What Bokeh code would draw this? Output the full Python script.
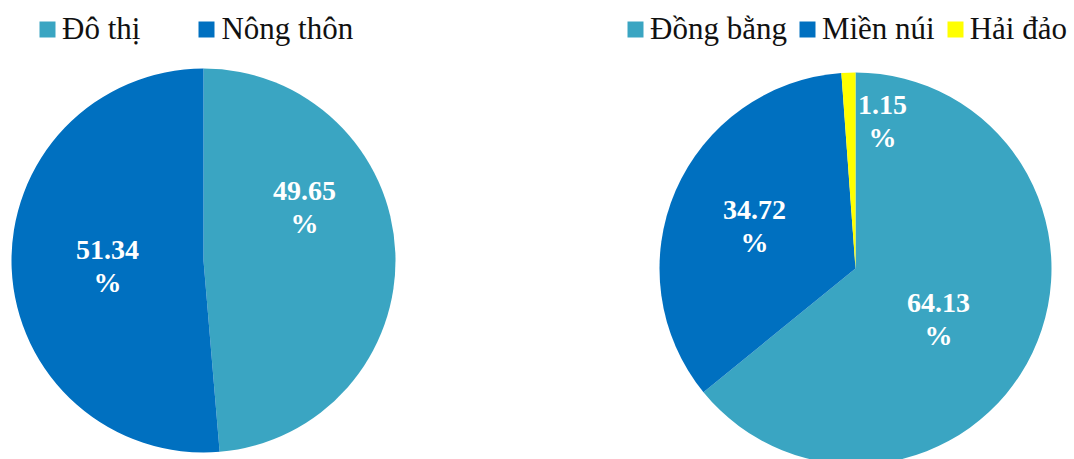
import math
from bokeh.plotting import figure
from bokeh.models import ColumnDataSource, Range1d, Legend, LegendItem
from bokeh.core.properties import value
from bokeh.embed import file_html
from bokeh.resources import INLINE

# ---- data ----
area_categories = ["Đô thị", "Nông thôn"]
# slice sizes as drawn in the picture (the urban slice spans ~175°)
area_values = [48.66, 51.34]
# labels as printed in the picture
area_labels = ["49.65", "51.34"]
region_categories = ["Đồng bằng", "Miền núi", "Hải đảo"]
region_values = [64.13, 34.72, 1.15]
region_labels = ["64.13", "34.72", "1.15"]

# ---- styles / layout ----
area_colors = ["#3AA5C2", "#0070C0"]
region_colors = ["#3AA5C2", "#0070C0", "#FFFF00"]

W, H = 1074, 459


def fx(ix):
    return ix


def fy(iy):
    return H - iy


p = figure(width=W, height=H, x_range=Range1d(0, W), y_range=Range1d(0, H),
           output_backend="svg", toolbar_location=None, min_border=0)
p.axis.visible = False
p.grid.visible = False
p.outline_line_color = None
p.background_fill_color = "white"
p.border_fill_color = "white"

FONT = "'Liberation Serif', 'Times New Roman', serif"


def pie(cats, vals, labels, colors, cx, cy, radius, label_offsets, legend_x, spacing):
    total = sum(vals)
    starts, ends = [], []
    acc = 0.0
    for v in vals:
        a0 = math.pi / 2 - 2 * math.pi * acc / total
        acc += v
        a1 = math.pi / 2 - 2 * math.pi * acc / total
        starts.append(a1)
        ends.append(a0)
    n = len(vals)
    src = ColumnDataSource(dict(cat=cats, val=vals, color=colors, start=starts, end=ends,
                                x=[fx(cx)] * n, y=[fy(cy)] * n))
    r = p.wedge(x="x", y="y", radius=radius, radius_units="screen",
                start_angle="start", end_angle="end", direction="anticlock",
                fill_color="color", line_color=None, source=src)

    nx, ny, px_, py_, nums, pcts = [], [], [], [], [], []
    for lab, (dx, dy) in zip(labels, label_offsets):
        nx.append(fx(cx + dx)); ny.append(fy(cy + dy - 16))
        px_.append(fx(cx + dx)); py_.append(fy(cy + dy + 17))
        nums.append(lab); pcts.append("%")
    lsrc = ColumnDataSource(dict(nx=nx, ny=ny, px=px_, py=py_, num=nums, pct=pcts))
    for xx, yy, tt in (("nx", "ny", "num"), ("px", "py", "pct")):
        p.text(x=xx, y=yy, text=tt, source=lsrc, text_align="center", text_baseline="middle",
               text_font=value(FONT), text_font_size="28px", text_font_style="bold",
               text_color="white")

    items = [LegendItem(label=c, renderers=[r], index=i) for i, c in enumerate(cats)]
    leg = Legend(items=items, orientation="horizontal", location=(fx(legend_x), 412),
                 glyph_width=20, glyph_height=20, label_standoff=5, spacing=spacing,
                 padding=0, margin=0, border_line_color=None, background_fill_alpha=0,
                 label_text_font=FONT, label_text_font_size="31px", label_text_color="#111111")
    p.add_layout(leg)


pie(area_categories, area_values, area_labels, area_colors, 203, 260, 192,
    [(101, -54), (-96, 5)], 37, 56)
pie(region_categories, region_values, region_labels, region_colors, 855, 268, 196,
    [(83, 50), (-101, -43), (27, -148)], 625, 10)

open("out.html", "w").write(file_html(p, INLINE))
